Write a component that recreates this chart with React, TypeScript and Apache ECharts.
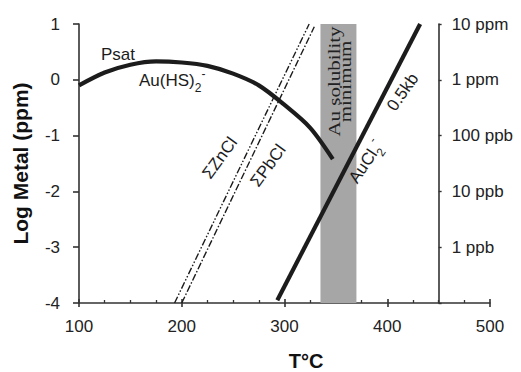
import React, { useEffect, useRef } from "react";
import * as echarts from "echarts";

// ---- data ----
const psatT = [100, 125, 150, 175, 200, 225, 250, 275, 300, 325, 347];
const psatLog = [-0.1, 0.13, 0.27, 0.33, 0.31, 0.25, 0.11, -0.1, -0.45, -0.86, -1.42];
const znclT = [193, 324];
const znclLog = [-4, 1];
const pbclT = [200, 329];
const pbclLog = [-4, 0.95];
const aucl2T = [293, 432];
const aucl2Log = [-3.95, 1];
const bandT = [335, 370];
const xTickLabels = [100, 200, 300, 400, 500];
const yTickLabels = [-4, -3, -2, -1, 0, 1];
const rightAxisT = 450;
const rightValues = [1, 0, -1, -2, -3];
const rightLabels = ["10 ppm", "1 ppm", "100 ppb", "10 ppb", "1 ppb"];

const INK = "#1c1c1c";
const AXIS = "#333333";
const SANS = "'Liberation Sans', Arial, Helvetica, sans-serif";
const SERIF = "'Liberation Serif', 'Times New Roman', serif";

const zip = (a: number[], b: number[]) => a.map((v, i) => [v, b[i]]);

export default function App() {
  const ref = useRef<HTMLDivElement>(null);
  useEffect(() => {
    const el = ref.current!;
    const chart = echarts.init(el, null, { renderer: "svg" });
    const W = 521;
    const grid = { left: 79, right: 31, top: 24, bottom: 69 };
    const plotW = W - grid.left - grid.right;
    const xMin = xTickLabels[0];
    const xMax = xTickLabels[xTickLabels.length - 1];
    const yMin = yTickLabels[0];
    const yMax = yTickLabels[yTickLabels.length - 1];
    const rightOffset = ((rightAxisT - xMin) / (xMax - xMin) - 1) * plotW;

    const axisLine = { show: true, onZero: false, lineStyle: { color: AXIS, width: 1.6 } };
    const labelStyle = { fontSize: 17, color: "#222", fontFamily: SANS };

    chart.setOption({
      animation: false,
      backgroundColor: "#ffffff",
      grid: { ...grid, containLabel: false, outerBoundsMode: "none" },
      xAxis: [
        {
          type: "value",
          min: xMin,
          max: xMax,
          interval: 100,
          position: "bottom",
          axisLine,
          axisTick: { show: true, inside: true, length: 4, lineStyle: { color: AXIS, width: 1.6 } },
          minorTick: { show: true, splitNumber: 4, length: 3, lineStyle: { color: AXIS, width: 1.3 } },
          axisLabel: { ...labelStyle, margin: 15 },
          splitLine: { show: false },
        },
        {
          type: "value",
          min: xMin,
          max: xMax,
          interval: 100,
          position: "bottom",
          axisLine: { show: false, onZero: false },
          axisTick: { show: true, inside: false, length: 4, lineStyle: { color: AXIS, width: 1.6 } },
          axisLabel: { show: false },
          splitLine: { show: false },
        },
      ],
      yAxis: [
        {
          type: "value",
          min: yMin,
          max: yMax,
          interval: 1,
          position: "left",
          axisLine,
          axisTick: { show: true, inside: false, length: 6, lineStyle: { color: AXIS, width: 1.6 } },
          axisLabel: { ...labelStyle, margin: 19 },
          splitLine: { show: false },
          name: "Log Metal (ppm)",
          nameLocation: "middle",
          nameGap: 48,
          nameTextStyle: { fontSize: 21, fontWeight: "bold", color: "#111", fontFamily: SANS },
        },
        {
          type: "value",
          min: yMin,
          max: yMax,
          interval: 1,
          position: "right",
          offset: rightOffset,
          axisLine,
          axisTick: { show: true, inside: false, length: 3, lineStyle: { color: AXIS, width: 1.4 } },
          axisLabel: {
            ...labelStyle,
            margin: 13,
            formatter: (v: number) => {
              const i = rightValues.indexOf(Math.round(v));
              return i >= 0 ? rightLabels[i] : "";
            },
          },
          splitLine: { show: false },
        },
      ],
      series: [
        {
          type: "custom",
          name: "Au solubility minimum",
          xAxisIndex: 0,
          yAxisIndex: 0,
          z: 1,
          data: [[bandT[0], bandT[1]]],
          encode: { x: [0, 1] },
          renderItem: (params: any, api: any) => {
            const p0 = api.coord([api.value(0), yMax]);
            const p1 = api.coord([api.value(1), yMin]);
            return {
              type: "rect",
              shape: { x: p0[0], y: p0[1], width: p1[0] - p0[0], height: p1[1] - p0[1] },
              style: { fill: "#a6a6a6" },
            };
          },
        },
        {
          type: "line",
          name: "ZnCl",
          z: 3,
          data: zip(znclT, znclLog),
          symbol: "none",
          lineStyle: { color: INK, width: 1.4, type: [7, 2, 1.5, 2, 1.5, 2] },
        },
        {
          type: "line",
          name: "PbCl",
          z: 3,
          data: zip(pbclT, pbclLog),
          symbol: "none",
          lineStyle: { color: INK, width: 1.4, type: [7, 2, 1.5, 2] },
        },
        {
          type: "line",
          name: "Psat",
          z: 4,
          data: zip(psatT, psatLog),
          symbol: "none",
          smooth: 0.3,
          lineStyle: { color: INK, width: 4.2 },
        },
        {
          type: "line",
          name: "AuCl2",
          z: 4,
          data: zip(aucl2T, aucl2Log),
          symbol: "none",
          lineStyle: { color: INK, width: 4.2 },
        },
      ],
    });

    const toPx = (t: number, v: number) => chart.convertToPixel({ gridIndex: 0 }, [t, v]) as number[];
    const deg = Math.PI / 180;
    const annot = (
      t: number,
      v: number,
      text: string,
      rotDeg: number,
      extra: any = {}
    ) => {
      const [x, y] = toPx(t, v);
      return {
        type: "text",
        x,
        y,
        rotation: rotDeg * deg,
        z: 10,
        ...extra.el,
        style: {
          text,
          fill: INK,
          fontSize: 17,
          fontFamily: SANS,
          align: "center",
          verticalAlign: "middle",
          ...extra.style,
        },
      };
    };
    const subRich = {
      a: { fontSize: 17, fontFamily: SANS, fill: INK, lineHeight: 26 },
      s: { fontSize: 12, fontFamily: SANS, fill: INK, lineHeight: 26, verticalAlign: "bottom" },
      p: { fontSize: 12, fontFamily: SANS, fill: INK, lineHeight: 26, verticalAlign: "top" },
    };

    chart.setOption({
      graphic: [
        annot(138, 0.45, "Psat", 0),
        annot(158.4, -0.02, "{a|Au(HS)}{s|2}{p|-}", 0, {
          style: { align: "left", rich: subRich },
        }),
        annot(237, -1.4, "ΣZnCl", 54),
        annot(284, -1.54, "ΣPbCl", 54),
        annot(354, -0.03, "Au solubility\nminimum", 90, {
          el: { scaleX: 1.2 },
          style: { fontFamily: SERIF, fontSize: 17.5, lineHeight: 11, fill: "#222" },
        }),
        annot(415, -0.22, "0.5kb", 55),
        annot(379.3, -1.47, "{a|AuCl}{s|2}{p|-}", 56, {
          style: { rich: subRich },
        }),
        {
          type: "text",
          x: 306,
          y: 361,
          z: 10,
          style: {
            text: "T°C",
            fill: "#111",
            fontSize: 20,
            fontWeight: "bold",
            fontFamily: SANS,
            align: "center",
            verticalAlign: "middle",
          },
        },
      ],
    });

    return () => chart.dispose();
  }, []);
  return (
    <div
      ref={ref}
      style={{ position: "absolute", left: 0, top: 0, width: 521, height: 372, background: "#fff" }}
    />
  );
}
